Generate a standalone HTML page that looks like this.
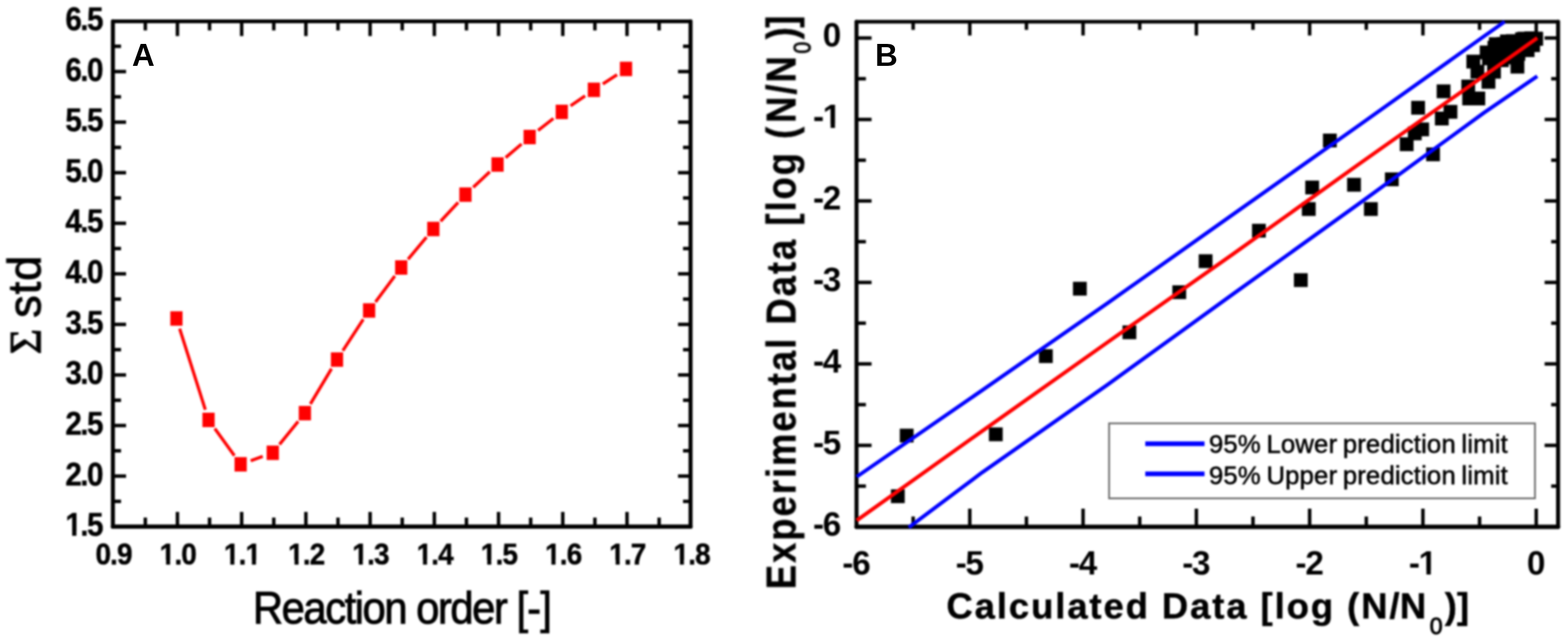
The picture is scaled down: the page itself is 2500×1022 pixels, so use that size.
<!DOCTYPE html>
<html lang="en">
<head>
<meta charset="utf-8">
<title>Figure</title>
<style>
html,body{margin:0;padding:0;background:#fff;}
body{width:2500px;height:1022px;overflow:hidden;}
svg{display:block;}
text{font-family:"Liberation Sans",sans-serif;fill:#000;}
.tk{font-size:51.3px;font-weight:bold;letter-spacing:-2.6px;stroke:#000;stroke-width:0.7px;}
.tkx{font-size:48.5px;letter-spacing:-1.5px;}
.tkb{font-size:53px;font-weight:bold;letter-spacing:-2px;}
.ttlA{font-size:72.5px;letter-spacing:-2.6px;stroke:#000;stroke-width:1.4px;}
.brk{letter-spacing:-1.5px;}
.ttlAy{font-size:72px;letter-spacing:-1px;stroke:#000;stroke-width:1.4px;}
.std{letter-spacing:1.5px;}
.sig{font-family:"Liberation Serif","DejaVu Serif",serif;font-size:70px;}
.ttlB{font-size:58px;font-weight:bold;letter-spacing:3.1px;stroke:#000;stroke-width:0.7px;}
.ttlBy{letter-spacing:3.2px;stroke-width:0.5px;}
.sub{font-size:37px;font-weight:normal;stroke-width:1.3px;}
.suby{font-size:34px;stroke-width:1px;}
.lg{font-size:41px;letter-spacing:0.25px;word-spacing:-2.8px;fill:#000;stroke:#000;stroke-width:0.8px;}
.pl{font-size:50px;font-weight:bold;}
</style>
</head>
<body>
<svg width="2500" height="1022" viewBox="0 0 2500 1022">
<defs>
<filter id="soft" x="0" y="0" width="2500" height="1022" filterUnits="userSpaceOnUse" color-interpolation-filters="sRGB">
<feGaussianBlur stdDeviation="1.5" color-interpolation-filters="sRGB"/>
</filter>
</defs>
<rect x="0" y="0" width="2500" height="1022" fill="#fff"/>
<g id="blurred" filter="url(#soft)">
<g id="chartA">
<g stroke="#000" stroke-linecap="round" fill="none">
<line x1="180.0" y1="34.0" x2="1101.0" y2="34.0" stroke-width="5.8"/>
<line x1="180.0" y1="839.7" x2="1101.0" y2="839.7" stroke-width="6.8"/>
<line x1="180.0" y1="34.0" x2="180.0" y2="839.7" stroke-width="6.4"/>
<line x1="1101.0" y1="34.0" x2="1101.0" y2="839.7" stroke-width="6.4"/>
</g>
<g stroke="#000" stroke-width="5.5" stroke-linecap="butt">
<line x1="231.70" y1="839.70" x2="231.70" y2="825.20"/>
<line x1="231.70" y1="34.00" x2="231.70" y2="48.50"/>
<line x1="282.90" y1="839.70" x2="282.90" y2="816.20"/>
<line x1="282.90" y1="34.00" x2="282.90" y2="57.50"/>
<line x1="334.10" y1="839.70" x2="334.10" y2="825.20"/>
<line x1="334.10" y1="34.00" x2="334.10" y2="48.50"/>
<line x1="385.30" y1="839.70" x2="385.30" y2="816.20"/>
<line x1="385.30" y1="34.00" x2="385.30" y2="57.50"/>
<line x1="436.50" y1="839.70" x2="436.50" y2="825.20"/>
<line x1="436.50" y1="34.00" x2="436.50" y2="48.50"/>
<line x1="487.70" y1="839.70" x2="487.70" y2="816.20"/>
<line x1="487.70" y1="34.00" x2="487.70" y2="57.50"/>
<line x1="538.90" y1="839.70" x2="538.90" y2="825.20"/>
<line x1="538.90" y1="34.00" x2="538.90" y2="48.50"/>
<line x1="590.10" y1="839.70" x2="590.10" y2="816.20"/>
<line x1="590.10" y1="34.00" x2="590.10" y2="57.50"/>
<line x1="641.30" y1="839.70" x2="641.30" y2="825.20"/>
<line x1="641.30" y1="34.00" x2="641.30" y2="48.50"/>
<line x1="692.50" y1="839.70" x2="692.50" y2="816.20"/>
<line x1="692.50" y1="34.00" x2="692.50" y2="57.50"/>
<line x1="743.70" y1="839.70" x2="743.70" y2="825.20"/>
<line x1="743.70" y1="34.00" x2="743.70" y2="48.50"/>
<line x1="794.90" y1="839.70" x2="794.90" y2="816.20"/>
<line x1="794.90" y1="34.00" x2="794.90" y2="57.50"/>
<line x1="846.10" y1="839.70" x2="846.10" y2="825.20"/>
<line x1="846.10" y1="34.00" x2="846.10" y2="48.50"/>
<line x1="897.30" y1="839.70" x2="897.30" y2="816.20"/>
<line x1="897.30" y1="34.00" x2="897.30" y2="57.50"/>
<line x1="948.50" y1="839.70" x2="948.50" y2="825.20"/>
<line x1="948.50" y1="34.00" x2="948.50" y2="48.50"/>
<line x1="999.70" y1="839.70" x2="999.70" y2="816.20"/>
<line x1="999.70" y1="34.00" x2="999.70" y2="57.50"/>
<line x1="1050.90" y1="839.70" x2="1050.90" y2="825.20"/>
<line x1="1050.90" y1="34.00" x2="1050.90" y2="48.50"/>
<line x1="180.00" y1="799.39" x2="193.00" y2="799.39"/>
<line x1="1101.00" y1="799.39" x2="1089.00" y2="799.39"/>
<line x1="180.00" y1="759.08" x2="201.00" y2="759.08"/>
<line x1="1101.00" y1="759.08" x2="1081.00" y2="759.08"/>
<line x1="180.00" y1="718.77" x2="193.00" y2="718.77"/>
<line x1="1101.00" y1="718.77" x2="1089.00" y2="718.77"/>
<line x1="180.00" y1="678.46" x2="201.00" y2="678.46"/>
<line x1="1101.00" y1="678.46" x2="1081.00" y2="678.46"/>
<line x1="180.00" y1="638.15" x2="193.00" y2="638.15"/>
<line x1="1101.00" y1="638.15" x2="1089.00" y2="638.15"/>
<line x1="180.00" y1="597.84" x2="201.00" y2="597.84"/>
<line x1="1101.00" y1="597.84" x2="1081.00" y2="597.84"/>
<line x1="180.00" y1="557.53" x2="193.00" y2="557.53"/>
<line x1="1101.00" y1="557.53" x2="1089.00" y2="557.53"/>
<line x1="180.00" y1="517.22" x2="201.00" y2="517.22"/>
<line x1="1101.00" y1="517.22" x2="1081.00" y2="517.22"/>
<line x1="180.00" y1="476.91" x2="193.00" y2="476.91"/>
<line x1="1101.00" y1="476.91" x2="1089.00" y2="476.91"/>
<line x1="180.00" y1="436.60" x2="201.00" y2="436.60"/>
<line x1="1101.00" y1="436.60" x2="1081.00" y2="436.60"/>
<line x1="180.00" y1="396.29" x2="193.00" y2="396.29"/>
<line x1="1101.00" y1="396.29" x2="1089.00" y2="396.29"/>
<line x1="180.00" y1="355.98" x2="201.00" y2="355.98"/>
<line x1="1101.00" y1="355.98" x2="1081.00" y2="355.98"/>
<line x1="180.00" y1="315.67" x2="193.00" y2="315.67"/>
<line x1="1101.00" y1="315.67" x2="1089.00" y2="315.67"/>
<line x1="180.00" y1="275.36" x2="201.00" y2="275.36"/>
<line x1="1101.00" y1="275.36" x2="1081.00" y2="275.36"/>
<line x1="180.00" y1="235.05" x2="193.00" y2="235.05"/>
<line x1="1101.00" y1="235.05" x2="1089.00" y2="235.05"/>
<line x1="180.00" y1="194.74" x2="201.00" y2="194.74"/>
<line x1="1101.00" y1="194.74" x2="1081.00" y2="194.74"/>
<line x1="180.00" y1="154.43" x2="193.00" y2="154.43"/>
<line x1="1101.00" y1="154.43" x2="1089.00" y2="154.43"/>
<line x1="180.00" y1="114.12" x2="201.00" y2="114.12"/>
<line x1="1101.00" y1="114.12" x2="1081.00" y2="114.12"/>
<line x1="180.00" y1="73.81" x2="193.00" y2="73.81"/>
<line x1="1101.00" y1="73.81" x2="1089.00" y2="73.81"/>
</g>
<g stroke="#ff0000" stroke-width="5" stroke-linecap="butt">
<line x1="286.43" y1="524.01" x2="327.37" y2="653.29"/>
<line x1="342.46" y1="683.28" x2="373.74" y2="726.52"/>
<line x1="399.70" y1="734.55" x2="418.90" y2="727.65"/>
<line x1="445.60" y1="708.69" x2="475.40" y2="671.91"/>
<line x1="494.84" y1="644.12" x2="528.56" y2="587.88"/>
<line x1="546.60" y1="559.07" x2="579.20" y2="509.23"/>
<line x1="598.68" y1="481.38" x2="629.52" y2="440.12"/>
<line x1="650.59" y1="413.44" x2="680.01" y2="378.16"/>
<line x1="702.51" y1="352.68" x2="730.49" y2="322.72"/>
<line x1="754.50" y1="298.67" x2="780.90" y2="273.93"/>
<line x1="806.22" y1="251.25" x2="831.58" y2="229.55"/>
<line x1="857.88" y1="208.02" x2="882.32" y2="188.88"/>
<line x1="909.71" y1="168.77" x2="932.89" y2="152.83"/>
<line x1="961.15" y1="133.93" x2="983.85" y2="119.17"/>
</g>
<g fill="#ff0000">
<rect x="271.55" y="496.30" width="19.5" height="23.0"/>
<rect x="322.75" y="658.00" width="19.5" height="23.0"/>
<rect x="373.95" y="728.80" width="19.5" height="23.0"/>
<rect x="425.15" y="710.40" width="19.5" height="23.0"/>
<rect x="476.35" y="647.20" width="19.5" height="23.0"/>
<rect x="527.55" y="561.80" width="19.5" height="23.0"/>
<rect x="578.75" y="483.50" width="19.5" height="23.0"/>
<rect x="629.95" y="415.00" width="19.5" height="23.0"/>
<rect x="681.15" y="353.60" width="19.5" height="23.0"/>
<rect x="732.35" y="298.80" width="19.5" height="23.0"/>
<rect x="783.55" y="250.80" width="19.5" height="23.0"/>
<rect x="834.75" y="207.00" width="19.5" height="23.0"/>
<rect x="885.95" y="166.90" width="19.5" height="23.0"/>
<rect x="937.15" y="131.70" width="19.5" height="23.0"/>
<rect x="988.35" y="98.40" width="19.5" height="23.0"/>
</g>
<g class="tk tkx" text-anchor="middle">
<text transform="translate(181.10,899.5) scale(0.92,1)">0.9</text>
<text transform="translate(283.50,899.5) scale(0.92,1)">1.0</text>
<text transform="translate(385.90,899.5) scale(0.92,1)">1.1</text>
<text transform="translate(488.30,899.5) scale(0.92,1)">1.2</text>
<text transform="translate(590.70,899.5) scale(0.92,1)">1.3</text>
<text transform="translate(693.10,899.5) scale(0.92,1)">1.4</text>
<text transform="translate(795.50,899.5) scale(0.92,1)">1.5</text>
<text transform="translate(897.90,899.5) scale(0.92,1)">1.6</text>
<text transform="translate(1000.30,899.5) scale(0.92,1)">1.7</text>
<text transform="translate(1102.70,899.5) scale(0.92,1)">1.8</text>
</g>
<g class="tk" text-anchor="end">
<text transform="translate(162.6,854.20) scale(0.92,1)">1.5</text>
<text transform="translate(162.6,773.58) scale(0.92,1)">2.0</text>
<text transform="translate(162.6,692.96) scale(0.92,1)">2.5</text>
<text transform="translate(162.6,612.34) scale(0.92,1)">3.0</text>
<text transform="translate(162.6,531.72) scale(0.92,1)">3.5</text>
<text transform="translate(162.6,451.10) scale(0.92,1)">4.0</text>
<text transform="translate(162.6,370.48) scale(0.92,1)">4.5</text>
<text transform="translate(162.6,289.86) scale(0.92,1)">5.0</text>
<text transform="translate(162.6,209.24) scale(0.92,1)">5.5</text>
<text transform="translate(162.6,128.62) scale(0.92,1)">6.0</text>
<text transform="translate(162.6,48.00) scale(0.92,1)">6.5</text>
</g>
<text class="ttlA" transform="translate(403.3,993.5) scale(0.92,1)">Reaction order <tspan class="brk">[-]</tspan></text>
<text class="ttlAy" transform="translate(64.2,565) rotate(-90) scale(1,1.04)"><tspan class="sig">Σ</tspan><tspan class="std" dx="-3"> std</tspan></text>
</g>
<g id="chartB">
<g stroke="#000" stroke-linecap="round" fill="none">
<line x1="1365.6" y1="34.6" x2="2484.2" y2="34.6" stroke-width="5.8"/>
<line x1="1365.6" y1="840.0" x2="2484.2" y2="840.0" stroke-width="6.8"/>
<line x1="1365.6" y1="34.6" x2="1365.6" y2="840.0" stroke-width="6.4"/>
<line x1="2484.2" y1="34.6" x2="2484.2" y2="840.0" stroke-width="6.4"/>
</g>
<g stroke="#000" stroke-width="5.5" stroke-linecap="butt">
<line x1="1455.91" y1="840.00" x2="1455.91" y2="823.50"/>
<line x1="1455.91" y1="34.60" x2="1455.91" y2="47.60"/>
<line x1="1546.22" y1="840.00" x2="1546.22" y2="811.00"/>
<line x1="1546.22" y1="34.60" x2="1546.22" y2="56.60"/>
<line x1="1636.53" y1="840.00" x2="1636.53" y2="823.50"/>
<line x1="1636.53" y1="34.60" x2="1636.53" y2="47.60"/>
<line x1="1726.84" y1="840.00" x2="1726.84" y2="811.00"/>
<line x1="1726.84" y1="34.60" x2="1726.84" y2="56.60"/>
<line x1="1817.15" y1="840.00" x2="1817.15" y2="823.50"/>
<line x1="1817.15" y1="34.60" x2="1817.15" y2="47.60"/>
<line x1="1907.46" y1="840.00" x2="1907.46" y2="811.00"/>
<line x1="1907.46" y1="34.60" x2="1907.46" y2="56.60"/>
<line x1="1997.77" y1="840.00" x2="1997.77" y2="823.50"/>
<line x1="1997.77" y1="34.60" x2="1997.77" y2="47.60"/>
<line x1="2088.08" y1="840.00" x2="2088.08" y2="811.00"/>
<line x1="2088.08" y1="34.60" x2="2088.08" y2="56.60"/>
<line x1="2178.39" y1="840.00" x2="2178.39" y2="823.50"/>
<line x1="2178.39" y1="34.60" x2="2178.39" y2="47.60"/>
<line x1="2268.70" y1="840.00" x2="2268.70" y2="811.00"/>
<line x1="2268.70" y1="34.60" x2="2268.70" y2="56.60"/>
<line x1="2359.01" y1="840.00" x2="2359.01" y2="823.50"/>
<line x1="2359.01" y1="34.60" x2="2359.01" y2="47.60"/>
<line x1="2449.32" y1="840.00" x2="2449.32" y2="811.00"/>
<line x1="2449.32" y1="34.60" x2="2449.32" y2="56.60"/>
<line x1="1365.60" y1="60.60" x2="1389.60" y2="60.60"/>
<line x1="2484.20" y1="60.60" x2="2462.70" y2="60.60"/>
<line x1="1365.60" y1="125.55" x2="1380.60" y2="125.55"/>
<line x1="2484.20" y1="125.55" x2="2473.20" y2="125.55"/>
<line x1="1365.60" y1="190.50" x2="1389.60" y2="190.50"/>
<line x1="2484.20" y1="190.50" x2="2462.70" y2="190.50"/>
<line x1="1365.60" y1="255.45" x2="1380.60" y2="255.45"/>
<line x1="2484.20" y1="255.45" x2="2473.20" y2="255.45"/>
<line x1="1365.60" y1="320.40" x2="1389.60" y2="320.40"/>
<line x1="2484.20" y1="320.40" x2="2462.70" y2="320.40"/>
<line x1="1365.60" y1="385.35" x2="1380.60" y2="385.35"/>
<line x1="2484.20" y1="385.35" x2="2473.20" y2="385.35"/>
<line x1="1365.60" y1="450.30" x2="1389.60" y2="450.30"/>
<line x1="2484.20" y1="450.30" x2="2462.70" y2="450.30"/>
<line x1="1365.60" y1="515.25" x2="1380.60" y2="515.25"/>
<line x1="2484.20" y1="515.25" x2="2473.20" y2="515.25"/>
<line x1="1365.60" y1="580.20" x2="1389.60" y2="580.20"/>
<line x1="2484.20" y1="580.20" x2="2462.70" y2="580.20"/>
<line x1="1365.60" y1="645.15" x2="1380.60" y2="645.15"/>
<line x1="2484.20" y1="645.15" x2="2473.20" y2="645.15"/>
<line x1="1365.60" y1="710.10" x2="1389.60" y2="710.10"/>
<line x1="2484.20" y1="710.10" x2="2462.70" y2="710.10"/>
<line x1="1365.60" y1="775.05" x2="1380.60" y2="775.05"/>
<line x1="2484.20" y1="775.05" x2="2473.20" y2="775.05"/>
</g>
<g fill="#000">
<rect x="1420.50" y="780.20" width="22.0" height="22.0"/>
<rect x="1434.60" y="683.50" width="22.0" height="22.0"/>
<rect x="1576.70" y="681.50" width="22.0" height="22.0"/>
<rect x="1656.50" y="556.80" width="22.0" height="22.0"/>
<rect x="1710.70" y="449.30" width="22.0" height="22.0"/>
<rect x="1789.70" y="518.80" width="22.0" height="22.0"/>
<rect x="1869.20" y="454.90" width="22.0" height="22.0"/>
<rect x="1911.20" y="405.40" width="22.0" height="22.0"/>
<rect x="1996.20" y="356.80" width="22.0" height="22.0"/>
<rect x="2063.00" y="435.60" width="22.0" height="22.0"/>
<rect x="2075.70" y="322.30" width="22.0" height="22.0"/>
<rect x="2081.10" y="287.90" width="22.0" height="22.0"/>
<rect x="2109.30" y="213.00" width="22.0" height="22.0"/>
<rect x="2147.80" y="283.60" width="22.0" height="22.0"/>
<rect x="2174.70" y="322.30" width="22.0" height="22.0"/>
<rect x="2208.10" y="274.90" width="22.0" height="22.0"/>
<rect x="2231.80" y="219.00" width="22.0" height="22.0"/>
<rect x="2244.70" y="201.70" width="22.0" height="22.0"/>
<rect x="2256.50" y="195.30" width="22.0" height="22.0"/>
<rect x="2250.00" y="160.80" width="22.0" height="22.0"/>
<rect x="2273.80" y="235.10" width="22.0" height="22.0"/>
<rect x="2287.80" y="178.00" width="22.0" height="22.0"/>
<rect x="2301.60" y="167.30" width="22.0" height="22.0"/>
<rect x="2290.60" y="134.60" width="22.0" height="22.0"/>
<rect x="2329.90" y="126.90" width="22.0" height="22.0"/>
<rect x="2331.40" y="146.00" width="22.0" height="22.0"/>
<rect x="2346.00" y="146.00" width="22.0" height="22.0"/>
<rect x="2338.00" y="87.20" width="22.0" height="22.0"/>
<rect x="2344.60" y="103.40" width="22.0" height="22.0"/>
<rect x="2362.20" y="119.50" width="22.0" height="22.0"/>
<rect x="2371.00" y="103.40" width="22.0" height="22.0"/>
<rect x="2408.40" y="95.30" width="22.0" height="22.0"/>
<rect x="2359.30" y="72.60" width="22.0" height="22.0"/>
<rect x="2371.70" y="65.00" width="22.0" height="22.0"/>
<rect x="2386.40" y="59.00" width="22.0" height="22.0"/>
<rect x="2401.00" y="54.50" width="22.0" height="22.0"/>
<rect x="2415.80" y="51.50" width="22.0" height="22.0"/>
<rect x="2430.40" y="50.00" width="22.0" height="22.0"/>
<rect x="2437.50" y="50.50" width="22.0" height="22.0"/>
<rect x="2424.60" y="69.00" width="22.0" height="22.0"/>
<rect x="2409.90" y="74.80" width="22.0" height="22.0"/>
<rect x="2395.20" y="80.60" width="22.0" height="22.0"/>
<rect x="2383.50" y="85.00" width="22.0" height="22.0"/>
<rect x="2433.40" y="61.00" width="22.0" height="22.0"/>
<rect x="2374.00" y="79.00" width="22.0" height="22.0"/>
<rect x="2389.00" y="71.00" width="22.0" height="22.0"/>
<rect x="2404.00" y="65.00" width="22.0" height="22.0"/>
<rect x="2419.00" y="59.00" width="22.0" height="22.0"/>
<rect x="2373.90" y="59.40" width="22.0" height="22.0"/>
<rect x="2391.60" y="55.00" width="22.0" height="22.0"/>
<rect x="2419.40" y="50.60" width="22.0" height="22.0"/>
<rect x="2438.30" y="51.00" width="22.0" height="22.0"/>
<rect x="2363.00" y="82.00" width="22.0" height="22.0"/>
</g>
<polyline points="1366.0,760.1 1566.0,622.2 1766.0,483.2 1966.0,341.8 2166.0,200.4 2366.0,57.9 2399.0,34.6" fill="none" stroke="#0000ff" stroke-width="6.0" stroke-linejoin="round"/>
<polyline points="1449.0,840.8 1566.0,753.2 1766.0,613.2 1966.0,468.8 2166.0,325.3 2366.0,179.8 2451.0,121.5" fill="none" stroke="#0000ff" stroke-width="6.0" stroke-linejoin="round"/>
<polyline points="1366.0,829.8 1566.0,687.2 1766.0,545.6 1966.0,405.0 2166.0,262.1 2366.0,121.0 2451.0,60.5" fill="none" stroke="#ff0000" stroke-width="6.0" stroke-linejoin="round"/>
<rect x="1768.3" y="675" width="679" height="119.6" fill="#fff" stroke="#6a6a6a" stroke-width="2.8"/>
<line x1="1826" y1="707.4" x2="1920.5" y2="707.4" stroke="#0000ff" stroke-width="7.5"/>
<line x1="1826" y1="755.6" x2="1920.5" y2="755.6" stroke="#0000ff" stroke-width="7.5"/>
<text class="lg" x="1927.5" y="722">95% Lower prediction limit</text>
<text class="lg" x="1927.5" y="772">95% Upper prediction limit</text>
<g class="tkb" text-anchor="middle">
<text x="1364.60" y="916.3">-6</text>
<text x="1545.22" y="916.3">-5</text>
<text x="1725.84" y="916.3">-4</text>
<text x="1906.46" y="916.3">-3</text>
<text x="2087.08" y="916.3">-2</text>
<text x="2267.70" y="916.3">-1</text>
<text x="2448.32" y="916.3">0</text>
</g>
<g class="tkb" text-anchor="end">
<text x="1339.3" y="74.40">0</text>
<text x="1339.3" y="204.30">-1</text>
<text x="1339.3" y="334.20">-2</text>
<text x="1339.3" y="464.10">-3</text>
<text x="1339.3" y="594.00">-4</text>
<text x="1339.3" y="723.90">-5</text>
<text x="1339.3" y="853.80">-6</text>
</g>
<text class="ttlB" x="1509" y="985.5">Calculated Data [log (N/<tspan dx="-2.5">N</tspan><tspan class="sub" dx="2.7" dy="25">0</tspan><tspan dx="0.2" dy="-25">)</tspan><tspan dx="-2.9">]</tspan></text>
<text class="ttlB ttlBy" transform="translate(1268.5,939.5) rotate(-90) scale(1,1.16)">Experimental Data [log (<tspan dx="3">N</tspan>/N<tspan class="sub suby" dx="1" dy="21">0</tspan><tspan dy="-21" dx="0.5">)</tspan><tspan dx="-4">]</tspan></text>
</g>
<g fill="#fff">
<rect x="255.05" y="893.00" width="9.75" height="9.35"/>
<rect x="271.27" y="893.00" width="9.19" height="9.35"/>
<rect x="357.45" y="893.00" width="9.75" height="9.35"/>
<rect x="373.67" y="893.00" width="9.19" height="9.35"/>
<rect x="391.89" y="893.00" width="9.75" height="9.35"/>
<rect x="408.11" y="893.00" width="9.19" height="9.35"/>
<rect x="459.85" y="893.00" width="9.75" height="9.35"/>
<rect x="476.07" y="893.00" width="9.19" height="9.35"/>
<rect x="562.25" y="893.00" width="9.75" height="9.35"/>
<rect x="578.47" y="893.00" width="9.19" height="9.35"/>
<rect x="664.65" y="893.00" width="9.75" height="9.35"/>
<rect x="680.87" y="893.00" width="9.19" height="9.35"/>
<rect x="767.05" y="893.00" width="9.75" height="9.35"/>
<rect x="783.27" y="893.00" width="9.19" height="9.35"/>
<rect x="869.45" y="893.00" width="9.75" height="9.35"/>
<rect x="885.67" y="893.00" width="9.19" height="9.35"/>
<rect x="971.85" y="893.00" width="9.75" height="9.35"/>
<rect x="988.07" y="893.00" width="9.19" height="9.35"/>
<rect x="1074.25" y="893.00" width="9.75" height="9.35"/>
<rect x="1090.47" y="893.00" width="9.19" height="9.35"/>
<rect x="104.83" y="847.41" width="10.19" height="9.64"/>
<rect x="121.84" y="847.41" width="8.87" height="9.64"/>
<rect x="2263.11" y="909.69" width="11.18" height="9.11"/>
<rect x="2281.26" y="909.69" width="10.51" height="9.11"/>
<rect x="1313.14" y="197.69" width="11.18" height="9.11"/>
<rect x="1331.29" y="197.69" width="10.51" height="9.11"/>
</g>
</g>
<text class="pl" x="210.6" y="104.7">A</text>
<text class="pl" x="1395.2" y="104.7">B</text>
</svg>
</body>
</html>
